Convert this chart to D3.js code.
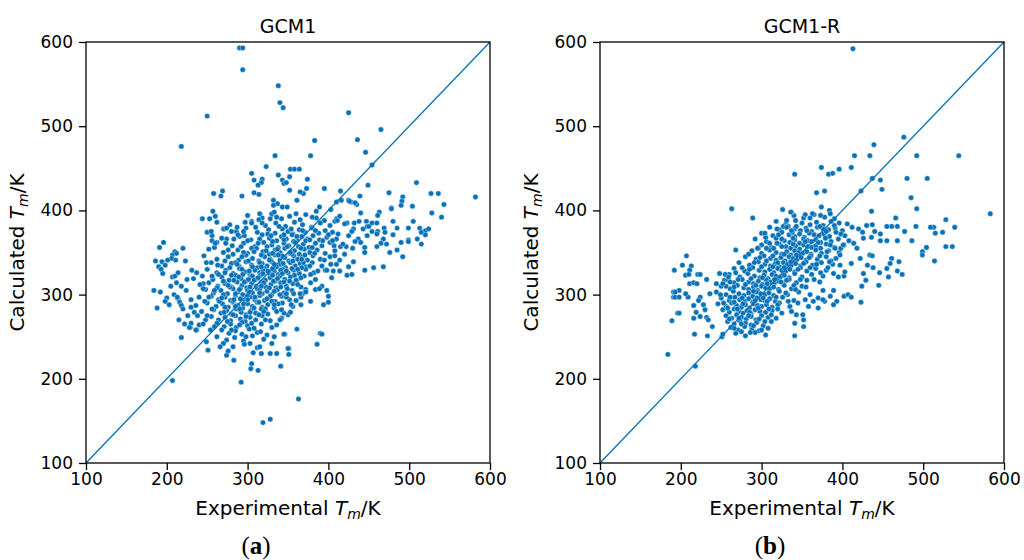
<!DOCTYPE html>
<html>
<head>
<meta charset="utf-8">
<script src="https://cdn.jsdelivr.net/npm/d3@7"></script>
<style>
  body { margin: 0; background: #fff; }
</style>
</head>
<body>
<div id="chart"></div>
<script>
const ticks = [100, 200, 300, 400, 500, 600];

// GCM1: dense middle of the cloud (Experimental, Calculated)
const gcm1Core = [
  [300,394],[318,391],[330,395],[342,390],[352,393],[365,389],[372,395],[385,391],[395,388],
  [262,386],[278,383],[305,387],[322,382],[335,385],[347,381],[358,386],[368,383],[379,380],[390,385],[402,382],
  [270,378],[286,375],[298,379],[312,374],[326,377],[334,373],[343,378],[350,375],[356,372],[364,377],[371,374],[380,379],[388,373],[396,376],[405,374],
  [256,370],[274,366],[290,369],[304,365],[318,371],[327,367],[336,364],[342,369],[348,366],[355,371],[361,365],[367,369],[374,366],[381,370],[389,365],[398,368],[410,366],
  [262,362],[281,358],[295,361],[309,357],[320,362],[330,359],[338,356],[345,361],[351,358],[357,363],[363,357],[369,360],[376,356],[384,361],[392,358],[402,362],[415,357],
  [252,354],[270,350],[288,353],[300,349],[311,355],[319,351],[327,348],[334,353],[340,350],[346,355],[352,349],[358,352],[364,348],[370,354],[377,350],[386,353],[396,349],[408,352],[420,348],
  [246,346],[262,342],[276,345],[289,341],[298,347],[306,343],[314,340],[321,345],[328,342],[334,347],[340,341],[346,344],[351,340],[357,346],[362,342],[368,345],[374,341],[381,346],[390,342],[402,345],
  [255,338],[268,334],[280,337],[290,333],[298,339],[305,335],[312,332],[318,337],[324,334],[330,339],[336,333],[341,336],[347,332],[353,338],[359,334],[365,337],[372,333],[380,338],[392,334],[410,336],
  [250,330],[262,326],[273,329],[282,325],[290,331],[297,327],[303,324],[309,329],[315,326],[321,331],[327,325],[333,328],[338,324],[344,330],[350,326],[357,329],[364,325],[372,330],[382,326],[396,329],
  [244,322],[257,318],[268,321],[277,317],[285,323],[292,319],[298,316],[304,321],[310,318],[316,323],[322,317],[328,320],[334,316],[340,322],[346,318],[353,321],[361,317],[370,322],[384,318],[404,320],
  [252,314],[263,310],[272,313],[280,309],[287,315],[293,311],[299,308],[305,313],[311,310],[317,315],[323,309],[329,312],[335,308],[341,314],[348,310],[356,313],[366,309],[378,314],[392,310],
  [248,306],[258,302],[267,305],[275,301],[282,307],[288,303],[294,300],[300,305],[306,302],[312,307],[318,301],[324,304],[330,300],[337,306],[345,302],[355,305],[368,301],[384,306],
  [255,298],[264,294],[272,297],[279,293],[285,299],[291,295],[297,292],[303,297],[309,294],[315,299],[321,293],[327,296],[334,292],[342,298],[352,294],[366,297],
  [250,290],[261,286],[269,289],[276,285],[282,291],[288,287],[294,284],[300,289],[306,286],[312,291],[318,285],[325,288],[333,284],[343,290],[356,286],
  [258,282],[267,278],[274,281],[280,277],[286,283],[292,279],[298,276],[304,281],[310,278],[317,283],[325,277],[336,280],[350,276],
  [255,274],[264,270],[272,273],[279,269],[285,275],[291,271],[297,268],[303,273],[310,270],[318,275],[328,269],[342,272],
  [262,266],[271,262],[279,265],[286,261],[293,267],[300,263],[308,260],[317,265],[330,261],
  [268,258],[277,254],[285,257],[293,253],[302,259],[312,255],[324,252],
  [262,250],[274,246],[284,249],[295,245],[306,251],[320,247],
  [270,242],[282,238],[296,241],[312,237],
  [300,364],[315,366],[331,363],[345,365],[359,362],[372,364],
  [292,357],[305,355],[324,357],[337,354],[349,357],[366,355],[380,356],
  [282,348],[295,350],[317,347],[331,349],[343,346],[355,348],[371,347],
  [272,340],[285,338],[301,340],[315,338],[327,341],[344,337],[356,340],[369,338],
  [278,332],[293,330],[306,333],[319,329],[331,331],[341,329],[355,331],[367,332],
  [264,324],[280,323],[294,324],[306,322],[319,325],[331,323],[343,325],[358,323],
  [270,316],[283,317],[296,315],[308,317],[320,314],[332,316],[345,315],[360,317],
  [262,308],[278,309],[291,307],[303,309],[315,306],[327,308],[341,309],
  [270,300],[285,301],[300,299],[315,302],[328,298],[340,300],
  [265,292],[282,292],[300,294],[314,291],[330,292],
  [272,285],[290,283],[308,284],[322,283],
  [282,276],[298,274],[314,276],
  [259,356],[276,353],[293,345],[308,351],[323,352],[338,347],[353,350],[367,342],[383,349],[395,341],
  [249,338],[263,335],[287,336],[302,328],[317,333],[333,336],[348,328],[362,330],[377,334],[387,328],
  [256,322],[272,326],[289,321],[301,318],[313,320],[325,328],[337,319],[352,316],[366,320],[378,324],
  [245,313],[259,305],[276,311],[290,306],[302,303],[317,310],[333,304],[349,307],[362,312],[372,306],
  [252,297],[268,296],[283,294],[295,289],[309,297],[324,295],[338,289],[348,297],[360,293],
  [256,283],[271,279],[285,286],[303,279],[320,280],[333,288],[345,278],
  [259,262],[275,268],[290,264],[305,266],[322,270],[336,264],
  [280,258],[298,250],[316,256],[333,250],
  [310,380],[325,372],[339,381],[354,378],[368,376],[384,376],[400,371],
  [296,370],[313,361],[329,370],[345,371],[361,369],[377,365],[393,364],[407,358],
  [283,366],[287,380],[297,386],[315,396],[336,392],[360,396],[380,392],[410,390]
];

// GCM1: scattered points around the cloud
const gcm1Spread = [
  [290,593],[294,593],[294,567],[338,548],[340,528],[344,522],[250,512],[218,476],[425,516],[465,496],[436,484],[383,483],[446,469],[378,465],[334,465],[323,452],[454,454],
  [305,444],[338,442],[352,440],[308,436],[318,437],[317,433],[313,430],[343,436],[345,432],[348,433],[353,449],[358,449],[364,449],[374,437],[373,426],[369,420],[365,422],[361,412],[352,424],[395,426],[415,423],[449,430],[475,421],[509,433],[258,420],[269,423],[267,417],[293,417],[308,421],[314,419],[332,412],[337,408],[332,406],[343,404],[349,404],[257,399],[260,393],[244,390],[253,390],[305,385],[314,389],[318,385],[330,396],[328,390],[333,398],[250,374],[255,375],[271,378],[274,379],[280,375],[288,371],[295,375],[256,364],[260,361],[268,367],[273,361],[191,356],[196,362],[220,355],
  [527,420],[536,420],[543,407],[582,416],[492,416],[491,411],[490,406],[504,405],[478,403],[439,417],[425,412],[428,410],[435,407],[410,410],[403,401],[389,404],[385,399],[440,397],[463,398],[461,394],[528,397],[540,392],[505,387],[480,387],[414,393],[408,387],[432,385],[438,387],[447,387],[454,385],[460,385],[485,379],[499,379],[513,379],[520,376],[524,378],[423,385],[431,378],[429,375],[443,378],[448,381],[454,375],[461,375],[469,379],[470,374],[499,365],[515,374],[437,366],[448,370],[468,366],[472,360],[465,361],[460,357],[485,353],[499,363],[468,333],[456,332],[445,329],[429,324],[423,323],[425,333],[431,339],[414,328],[406,328],[398,329],[403,336],[408,346],[414,341],[422,357],[433,363],[440,362],[445,356],[426,411],[416,412],[433,409],[478,402],[411,388],[420,384],[450,381],[460,372],[480,371],[490,362],[510,366],[515,360],[520,371],[476,350],[492,345],[445,350],[430,355],[418,360],[405,364],[412,372],[425,370],
  [363,176],[386,241],[390,254],[392,253],[361,259],[346,253],[351,236],[351,229],[341,215],[340,270],[353,279],[366,288],[378,292],[394,288],[400,291],[400,298],[398,305],[389,307],[372,303],[365,301],[357,301],[348,301],[354,288],[342,282],[319,148],[328,152],[292,196],[304,212],[313,210],[305,218],[274,228],[276,233],[266,238],[283,222],[307,231],[317,230],[328,230],[336,230],[330,242],[315,238],[303,242],[350,236],[345,253],[251,234],[249,244],[218,249],[237,258],[229,261],[240,264],[254,258],[207,198],
  [210,351],[207,347],[212,349],[206,343],[211,341],[201,341],[194,339],[190,333],[198,335],[193,330],[207,321],[210,322],[212,314],[214,326],[195,325],[223,340],[184,305],[192,303],[188,284],[209,300],[214,295],[216,291],[218,287],[220,283],[213,297],[224,305],[231,329],[233,319],[237,326],[245,307],[241,312],[230,294],[230,285],[234,279],[238,275],[230,266],[228,261],[236,258],[248,270],[226,275],[222,265],[200,296],[205,310],[218,310],[225,318],[215,270],[240,297],[247,292],[236,287],[243,280],[250,275],[245,265],[186,340],[198,292],[203,288]
];

// GCM1-R: dense middle of the cloud
const gcm1rCore = [
  [340,394],[352,391],[365,395],[378,392],[390,390],
  [318,387],[330,384],[342,388],[350,385],[360,383],[368,386],[376,382],[386,387],[396,385],[406,384],
  [310,380],[322,377],[333,381],[341,378],[348,376],[355,379],[362,375],[369,380],[376,378],[383,377],[391,379],[400,376],[412,380],
  [300,373],[314,370],[325,374],[334,371],[341,369],[347,372],[353,368],[359,373],[365,371],[371,370],[377,372],[384,369],[392,374],[403,370],
  [292,366],[306,363],[318,367],[328,364],[335,362],[341,365],[347,361],[352,366],[357,364],[362,363],[367,365],[373,362],[379,367],[386,363],[395,366],[408,364],
  [300,359],[312,356],[322,360],[330,357],[336,355],[342,358],[347,354],[352,359],[357,357],[362,356],[367,358],[373,355],[380,360],[390,356],[402,359],
  [288,352],[300,349],[310,353],[318,350],[325,348],[331,351],[336,347],[341,352],[346,350],[351,349],[356,351],[361,348],[367,353],[374,349],[383,352],[396,350],
  [280,345],[293,342],[303,346],[311,343],[318,341],[324,344],[329,340],[334,345],[339,343],[344,342],[349,344],[355,341],[361,346],[369,342],[380,345],[392,343],
  [272,338],[285,335],[296,339],[304,336],[311,334],[317,337],[322,333],[327,338],[332,336],[337,335],[342,337],[348,334],[355,339],[363,335],[374,338],[388,336],
  [266,331],[279,328],[289,332],[297,329],[304,327],[310,330],[315,326],[320,331],[325,329],[330,328],[335,330],[341,327],[348,332],[356,328],[367,331],[380,329],
  [260,324],[273,321],[283,325],[291,322],[298,320],[303,323],[308,319],[313,324],[318,322],[323,321],[328,323],[334,320],[341,325],[350,321],[362,324],[376,322],[395,321],
  [254,317],[266,314],[276,318],[284,315],[290,313],[296,316],[301,312],[306,317],[311,315],[316,314],[321,316],[327,313],[334,318],[343,314],[356,317],[372,315],
  [250,310],[261,307],[270,311],[278,308],[284,306],[290,309],[295,305],[300,310],[305,308],[310,307],[315,309],[321,306],[328,311],[337,307],[350,310],
  [244,303],[256,300],[265,304],[272,301],[278,299],[284,302],[289,298],[294,303],[299,301],[304,300],[309,302],[315,299],[322,304],[332,300],[346,303],
  [250,296],[260,293],[267,297],[273,294],[279,292],[284,295],[289,291],[294,296],[299,294],[304,293],[310,295],[317,292],[326,297],[340,293],
  [246,289],[256,286],[263,290],[269,287],[275,285],[280,288],[285,284],[290,289],[295,287],[300,286],[306,288],[313,285],[322,290],[335,286],
  [252,282],[260,279],[266,283],[272,280],[277,278],[282,281],[287,277],[292,282],[298,280],[305,279],[313,281],[325,278],
  [256,275],[263,272],[269,276],[275,273],[281,271],[287,274],[293,270],[300,275],[308,273],[318,272],
  [258,268],[266,265],[273,269],[280,266],[287,264],[294,267],[302,263],[312,268],
  [262,261],[271,258],[279,262],[288,259],[297,257],[308,260],
  [268,254],[280,251],[292,255],[305,252],
  [305,368],[321,371],[338,374],[356,376],[372,381],[390,382],[380,375],[398,372],
  [296,355],[310,361],[325,357],[339,360],[354,363],[370,362],[385,359],[398,355],
  [284,348],[298,344],[314,346],[328,348],[343,347],[359,344],[372,346],[386,340],
  [276,332],[291,338],[306,340],[320,338],[336,339],[352,337],[368,336],[382,332],
  [268,326],[285,330],[300,333],[314,333],[328,332],[345,330],[360,332],[373,326],
  [258,318],[271,318],[287,319],[301,320],[316,318],[331,317],[348,318],[365,318],
  [256,310],[266,309],[280,312],[293,311],[307,313],[324,315],[340,311],[355,309],
  [249,300],[261,297],[276,296],[290,304],[302,296],[318,297],[330,302],[342,306],
  [253,290],[266,291],[277,289],[292,293],[307,292],[320,288],[333,292],
  [258,284],[270,283],[285,279],[296,284],[309,283],[320,283],
  [260,271],[272,272],[284,275],[297,271],[312,276],
  [266,260],[275,265],[290,263],[304,268],
  [275,256],[286,255],[300,258]
];

// GCM1-R: scattered points around the cloud
const gcm1rSpread = [
  [413,592],[476,487],[439,478],[415,465],[434,465],[492,465],[544,465],[374,451],[341,443],[383,443],[388,444],[396,449],[411,451],[437,438],[447,436],[449,425],[423,423],[480,438],[505,438],[368,421],[378,423],[485,415],[492,402],[374,404],[384,400],[385,396],[373,394],[363,396],[360,391],[354,395],[337,398],[436,399],[583,396],[528,389],[539,380],[513,380],[524,374],[515,373],[509,380],[466,391],[461,381],[468,381],[455,381],[491,381],[477,375],[486,364],[468,364],[455,364],[447,364],[437,383],[430,382],[420,378],[425,374],[440,375],[447,372],[426,367],[436,368],[504,356],[528,357],[536,357],[499,351],[499,347],[514,340],[461,343],[470,339],[459,337],[455,331],[446,326],[457,321],[468,328],[474,324],[445,311],[438,332],[431,335],[434,347],[437,346],[426,325],[429,317],[424,310],[423,291],[422,343],[411,337],
  [263,402],[289,391],[326,401],[336,398],[331,388],[327,381],[331,380],[319,378],[304,373],[337,376],[343,381],[319,361],[325,366],[339,367],[268,353],[295,355],[306,355],[315,355],[184,229],[218,215],[189,269],[196,278],[198,278],[217,253],[233,251],[251,250],[252,253],[191,297],[193,297],[198,297],[191,303],[198,305],[193,303],[192,329],[202,335],[207,346],[213,334],[211,329],[206,323],[210,324],[221,324],[224,324],[211,313],[216,314],[220,313],[209,297],[206,301],[224,297],[222,293],[216,287],[219,279],[216,272],[224,274],[232,273],[234,270],[230,282],[228,288],[236,301],[232,318],[239,262],[248,325],[255,324],[259,321],[244,313],[252,313],[261,315],
  [402,298],[407,300],[411,297],[393,292],[389,288],[378,292],[370,284],[376,305],[389,305],[402,322],[403,327],[397,335],[389,325],[384,339],[381,351],[391,355],[401,359],[414,361],[418,355],[397,347],[341,266],[341,251],[352,270],[352,262],[351,276],[343,276],[337,280],[358,286],[364,292],[370,296],[376,294],[385,298],[354,294],[345,290],[360,300]
];

const panels = [
  { title: "GCM1", tag: "a", left: 86, points: gcm1Core.concat(gcm1Spread) },
  { title: "GCM1-R", tag: "b", left: 600, points: gcm1rCore.concat(gcm1rSpread) }
];

const width = 404, height = 421, marginTop = 42;
const blue = "#0571b8";

const x = d3.scaleLinear().domain([100, 600]).range([0, width]);
const y = d3.scaleLinear().domain([100, 600]).range([height, 0]);

const svg = d3.select("#chart")
  .append("svg")
  .attr("width", 1024)
  .attr("height", 560)
  .style("font-family", "'DejaVu Sans', sans-serif");

panels.forEach(function (p) {
  const g = svg.append("g").attr("transform", "translate(" + p.left + "," + marginTop + ")");

  const xAxis = g.append("g")
    .attr("transform", "translate(0," + height + ")")
    .call(d3.axisBottom(x).tickValues(ticks).tickSize(7).tickPadding(3));
  const yAxis = g.append("g")
    .call(d3.axisLeft(y).tickValues(ticks).tickSize(7).tickPadding(6));

  [xAxis, yAxis].forEach(function (a) {
    a.select(".domain").remove();
    a.selectAll("line").attr("stroke", "#000").attr("stroke-width", 1.3);
    a.selectAll("text").attr("font-size", 17).attr("fill", "#000")
      .style("font-family", "'DejaVu Sans', sans-serif");
  });

  g.append("g")
    .selectAll("circle")
    .data(p.points)
    .enter()
    .append("circle")
    .attr("cx", function (d) { return x(d[0]); })
    .attr("cy", function (d) { return y(d[1]); })
    .attr("r", 2.7)
    .attr("fill", blue)
    .attr("stroke", "#fff")
    .attr("stroke-width", 0.4);

  g.append("path")
    .datum([[100, 100], [600, 600]])
    .attr("fill", "none")
    .attr("stroke", blue)
    .attr("stroke-width", 1.3)
    .attr("d", d3.line().x(function (d) { return x(d[0]); }).y(function (d) { return y(d[1]); }));

  g.append("rect")
    .attr("width", width)
    .attr("height", height)
    .attr("fill", "none")
    .attr("stroke", "#000")
    .attr("stroke-width", 1.3);

  g.append("text")
    .attr("x", width / 2)
    .attr("y", -9)
    .attr("text-anchor", "middle")
    .attr("font-size", 19)
    .text(p.title);

  const xl = g.append("text")
    .attr("x", width / 2)
    .attr("y", height + 52)
    .attr("text-anchor", "middle")
    .attr("font-size", 20);
  xl.append("tspan").text("Experimental ");
  xl.append("tspan").attr("font-style", "italic").text("T");
  xl.append("tspan").attr("font-style", "italic").attr("font-size", 14).attr("dy", 4).text("m");
  xl.append("tspan").attr("dy", -4).text("/K");

  const yl = g.append("text")
    .attr("transform", "translate(-62," + height / 2 + ")rotate(-90)")
    .attr("text-anchor", "middle")
    .attr("font-size", 20);
  yl.append("tspan").text("Calculated ");
  yl.append("tspan").attr("font-style", "italic").text("T");
  yl.append("tspan").attr("font-style", "italic").attr("font-size", 14).attr("dy", 4).text("m");
  yl.append("tspan").attr("dy", -4).text("/K");

  const cap = svg.append("text")
    .attr("x", p.left + width / 2 - 32)
    .attr("y", 554)
    .attr("text-anchor", "middle")
    .attr("font-size", 25)
    .style("font-family", "'Liberation Serif', 'DejaVu Serif', serif");
  cap.append("tspan").text("(");
  cap.append("tspan").attr("font-weight", "bold").text(p.tag);
  cap.append("tspan").text(")");
});
</script>
</body>
</html>
